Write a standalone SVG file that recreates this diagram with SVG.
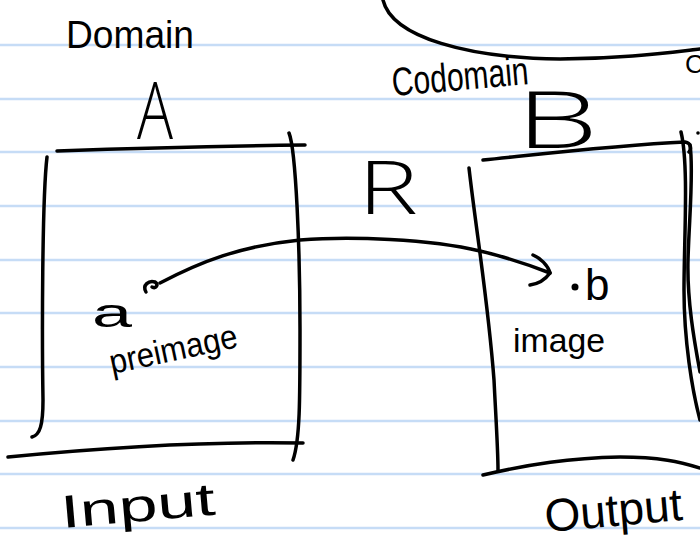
<svg xmlns="http://www.w3.org/2000/svg" width="700" height="544" viewBox="0 0 700 544">
<style>
.rule{stroke:#c6dcf6;stroke-width:2.5;fill:none}
.ink{stroke:#000;stroke-width:3.5;fill:none;stroke-linecap:round;stroke-linejoin:round}
.hw{font-family:"Liberation Sans","DejaVu Sans",sans-serif;fill:#000}
.big{font-family:"Open Sans","Liberation Sans",sans-serif;font-weight:300;fill:#000}
</style>
<rect width="700" height="544" fill="#fff"/>
<g id="paper">
<line class="rule" x1="0" y1="45" x2="700" y2="45"/>
<line class="rule" x1="0" y1="99" x2="700" y2="99"/>
<line class="rule" x1="0" y1="152" x2="700" y2="152"/>
<line class="rule" x1="0" y1="206" x2="700" y2="206"/>
<line class="rule" x1="0" y1="260" x2="700" y2="260"/>
<line class="rule" x1="0" y1="313" x2="700" y2="313"/>
<line class="rule" x1="0" y1="367" x2="700" y2="367"/>
<line class="rule" x1="0" y1="421" x2="700" y2="421"/>
<line class="rule" x1="0" y1="474" x2="700" y2="474"/>
<line class="rule" x1="0" y1="528" x2="700" y2="528"/>
</g>
<g id="codomain-ellipse">
<path class="ink" d="M383,0 C392,38 470,58 560,59 C620,59 665,53 700,49"/>
<text class="hw" x="685" y="73" font-size="26">C</text>
<circle cx="698" cy="133" r="1.8" fill="#000"/>
</g>
<g id="domain-A">
<path class="ink" d="M57,151 C140,148 220,146 305,145"/>
<path class="ink" d="M47,157 C42,200 42,340 43,400 C43,425 40,435 32,437"/>
<path class="ink" d="M289,133 C296,150 300,250 300,330 C300,400 300,440 293,460"/>
<path class="ink" d="M8,457 C100,448 200,441 303,443"/>
<text class="hw" x="66" y="48" font-size="38" textLength="128" lengthAdjust="spacingAndGlyphs">Domain</text>
<text class="big" x="137" y="139" font-size="80" textLength="36" lengthAdjust="spacingAndGlyphs">A</text>
<text class="hw" x="92" y="327" font-size="40" textLength="40" lengthAdjust="spacingAndGlyphs">a</text>
<text class="hw" x="112" y="374" font-size="34" textLength="130" lengthAdjust="spacingAndGlyphs" transform="rotate(-12 112 374)">preimage</text>
<text class="hw" x="62" y="528" font-size="46" textLength="155" lengthAdjust="spacingAndGlyphs" transform="rotate(-5 62 528)">Input</text>
</g>
<g id="codomain-B">
<path class="ink" d="M483,160 C560,152 620,145 685,142 C692,143 691,150 689,152"/>
<path class="ink" d="M469,168 C476,230 488,300 494,380 C496,420 498,450 498,470"/>
<path class="ink" d="M483,475 C530,464 570,458 620,457 C660,457 680,462 700,468"/>
<path class="ink" d="M681,132 C689,165 684,240 684,290 C684,340 692,390 700,420"/>
<path class="ink" d="M690,145 C694,170 689,220 688,260 C687,300 694,340 700,372"/>
<text class="hw" x="393" y="96" font-size="40" textLength="137" lengthAdjust="spacingAndGlyphs" transform="rotate(-5 393 96)">Codomain</text>
<text class="big" x="516" y="148" font-size="80" textLength="82" lengthAdjust="spacingAndGlyphs">B</text>
<circle cx="575" cy="287" r="3.5" fill="#000"/>
<text class="hw" x="585" y="300" font-size="44">b</text>
<text class="hw" x="513" y="352" font-size="34" textLength="92" lengthAdjust="spacingAndGlyphs">image</text>
<text class="hw" x="546" y="532" font-size="46" textLength="138" lengthAdjust="spacingAndGlyphs" transform="rotate(-5 546 532)">Output</text>
</g>
<g id="connectors">
<path class="ink" d="M146,292 C142,285 149,280 155,282 C159,285 156,289 152,287"/>
<path class="ink" d="M160,283 C200,262 240,246 300,240 C350,236 430,239 480,251 C510,258 532,266 550,273"/>
<path class="ink" d="M533,255 C540,258 548,265 550,273 C545,280 537,284 530,285"/>
<text class="big" x="358" y="214" font-size="74" textLength="60" lengthAdjust="spacingAndGlyphs">R</text>
</g>
</svg>
